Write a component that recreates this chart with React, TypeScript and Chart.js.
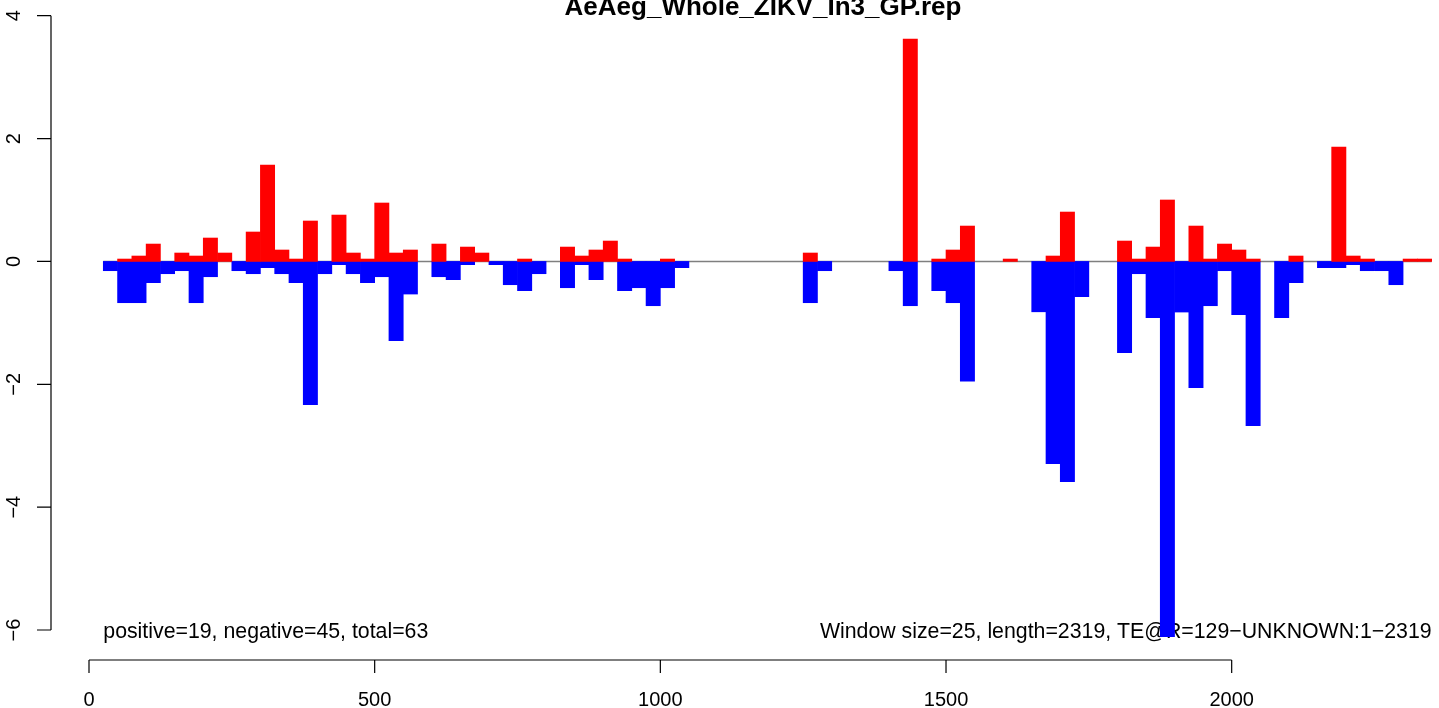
import React, { useEffect, useRef } from "react";
import { Chart, registerables } from "chart.js";

Chart.register(...registerables);

const chartTitle = "AeAeg_Whole_ZIKV_In3_GP.rep";
const windowSize = 25;

// score of each 25-bp window (window k spans [25k, 25k+25]); null = no bar
const positiveScores: (number | null)[] = [
  null, 0.039, 0.088, 0.283, null, 0.137, 0.088, 0.381, 0.137, null,
  0.479, 1.569, 0.186, 0.039, 0.658, null, 0.755, 0.137, 0.039, 0.951,
  0.137, 0.186, null, 0.283, null, 0.234, 0.137, null, null, 0.039,
  null, null, 0.234, 0.088, 0.186, 0.332, 0.039, null, null, 0.039,
  null, null, null, null, null, null, null, null, null, 0.137,
  null, null, null, null, null, null, 3.62, null, 0.039, 0.186,
  0.576, null, null, 0.039, null, null, 0.088, 0.804, null, null,
  null, 0.332, 0.039, 0.234, 1.0, null, 0.576, 0.039, 0.283, 0.186,
  0.039, null, null, 0.088, null, null, 1.86, 0.088, 0.039, null,
  null, 0.039, 0.039,
];

const negativeScores: (number | null)[] = [
  -0.151, -0.672, -0.672, -0.346, -0.2, -0.151, -0.672, -0.249, null, -0.151,
  -0.2, -0.102, -0.2, -0.346, -2.332, -0.2, -0.053, -0.2, -0.346, -0.249,
  -1.29, -0.531, null, -0.249, -0.297, -0.053, null, -0.053, -0.379, -0.476,
  -0.2, null, -0.428, -0.053, -0.297, null, -0.476, -0.428, -0.721, -0.428,
  -0.102, null, null, null, null, null, null, null, null, -0.672,
  -0.151, null, null, null, null, -0.151, -0.721, null, -0.476, -0.672,
  -1.95, null, null, null, null, -0.82, -3.293, -3.586, -0.574, null,
  null, -1.486, -0.2, -0.916, -6.11, -0.824, -2.055, -0.721, -0.151, -0.867,
  -2.674, null, -0.916, -0.346, null, -0.102, -0.102, -0.053, -0.151, -0.151,
  -0.379, null, null,
];

const xTicks = [0, 500, 1000, 1500, 2000];
const yTicks = [-6, -4, -2, 0, 2, 4];
const leftNote = "positive=19, negative=45, total=63";
const rightNote = "Window size=25, length=2319, TE@R=129\u2212UNKNOWN:1\u22122319";

const windowStarts = positiveScores.map((_, i) => (i + 1) * windowSize);
const firstStart = windowStarts[0];
const lastEnd = windowStarts[windowStarts.length - 1] + windowSize;

const FONT = '"Liberation Sans", Arial, Helvetica, sans-serif';

function fmt(v: number) {
  return v < 0 ? "\u2212" + Math.abs(v) : String(v);
}

const rPlotPlugin = {
  id: "rPlot",
  beforeDatasetsDraw(chart: any) {
    const ctx = chart.ctx as CanvasRenderingContext2D;
    const xs = chart.scales.x;
    const ys = chart.scales.y;
    ctx.save();
    ctx.fillStyle = "#000";
    ctx.font = `21.3px ${FONT}`;
    ctx.textBaseline = "alphabetic";
    const yText = ys.getPixelForValue(-6) + 7.5;
    ctx.textAlign = "left";
    ctx.fillText(leftNote, xs.getPixelForValue(firstStart), yText);
    ctx.textAlign = "right";
    ctx.fillText(rightNote, xs.getPixelForValue(lastEnd), yText);
    ctx.restore();
  },
  afterDraw(chart: any) {
    const ctx = chart.ctx as CanvasRenderingContext2D;
    const xs = chart.scales.x;
    const ys = chart.scales.y;
    ctx.save();
    ctx.strokeStyle = "#000";
    ctx.fillStyle = "#000";
    ctx.lineWidth = 1.2;

    // y axis
    const ax = 51;
    const yTop = ys.getPixelForValue(yTicks[yTicks.length - 1]);
    const yBot = ys.getPixelForValue(yTicks[0]);
    ctx.beginPath();
    ctx.moveTo(ax, yTop);
    ctx.lineTo(ax, yBot);
    yTicks.forEach((t) => {
      const p = ys.getPixelForValue(t);
      ctx.moveTo(ax, p);
      ctx.lineTo(ax - 14, p);
    });
    ctx.stroke();
    ctx.font = `20px ${FONT}`;
    ctx.textAlign = "center";
    ctx.textBaseline = "alphabetic";
    yTicks.forEach((t) => {
      const p = ys.getPixelForValue(t);
      ctx.save();
      ctx.translate(20, p);
      ctx.rotate(-Math.PI / 2);
      ctx.fillText(fmt(t), 0, 0);
      ctx.restore();
    });

    // x axis
    const ay = 660;
    const xL = xs.getPixelForValue(xTicks[0]);
    const xR = xs.getPixelForValue(xTicks[xTicks.length - 1]);
    ctx.beginPath();
    ctx.moveTo(xL, ay);
    ctx.lineTo(xR, ay);
    xTicks.forEach((t) => {
      const p = xs.getPixelForValue(t);
      ctx.moveTo(p, ay);
      ctx.lineTo(p, ay + 13);
    });
    ctx.stroke();
    xTicks.forEach((t) => {
      ctx.fillText(String(t), xs.getPixelForValue(t), 706);
    });

    // title
    ctx.font = `bold 26px ${FONT}`;
    ctx.textAlign = "center";
    ctx.fillText(chartTitle, 763, 15);
    ctx.restore();
  },
};

export default function App() {
  const canvasRef = useRef<HTMLCanvasElement | null>(null);

  useEffect(() => {
    const canvas = canvasRef.current;
    if (!canvas) return;
    const centers = windowStarts.map((s) => s + windowSize / 2);
    const chart = new Chart(canvas, {
      type: "bar",
      data: {
        datasets: [
          {
            type: "bar",
            label: "positive",
            data: centers.map((x, i) => ({ x, y: positiveScores[i] })) as any,
            backgroundColor: "#ff0000",
            borderWidth: 0,
            barPercentage: 1,
            categoryPercentage: 1,
            grouped: false,
            order: 1,
          } as any,
          {
            type: "bar",
            label: "negative",
            data: centers.map((x, i) => ({ x, y: negativeScores[i] })) as any,
            backgroundColor: "#0000ff",
            borderWidth: 0,
            barPercentage: 1,
            categoryPercentage: 1,
            grouped: false,
            order: 2,
          } as any,
          {
            type: "line",
            label: "zero",
            data: [
              { x: firstStart, y: 0 },
              { x: lastEnd, y: 0 },
            ],
            borderColor: "#7f7f7f",
            borderWidth: 1.4,
            pointRadius: 0,
            order: 3,
          } as any,
        ],
      },
      options: {
        responsive: false,
        animation: false,
        events: [],
        layout: { padding: { left: 51, right: 0, top: 10, bottom: 48 } },
        plugins: {
          legend: { display: false },
          tooltip: { enabled: false },
          title: { display: false },
        },
        scales: {
          x: {
            type: "linear",
            min: -66.51,
            max: 2362.86,
            offset: false,
            display: false,
          },
          y: {
            type: "linear",
            min: -6.488,
            max: 4.0928,
            display: false,
          },
        },
      },
      plugins: [rPlotPlugin],
    });
    return () => chart.destroy();
  }, []);

  return (
    <div style={{ position: "absolute", left: 0, top: 0, width: 1439, height: 708, background: "#fff" }}>
      <canvas ref={canvasRef} width={1439} height={708} style={{ display: "block" }} />
    </div>
  );
}
